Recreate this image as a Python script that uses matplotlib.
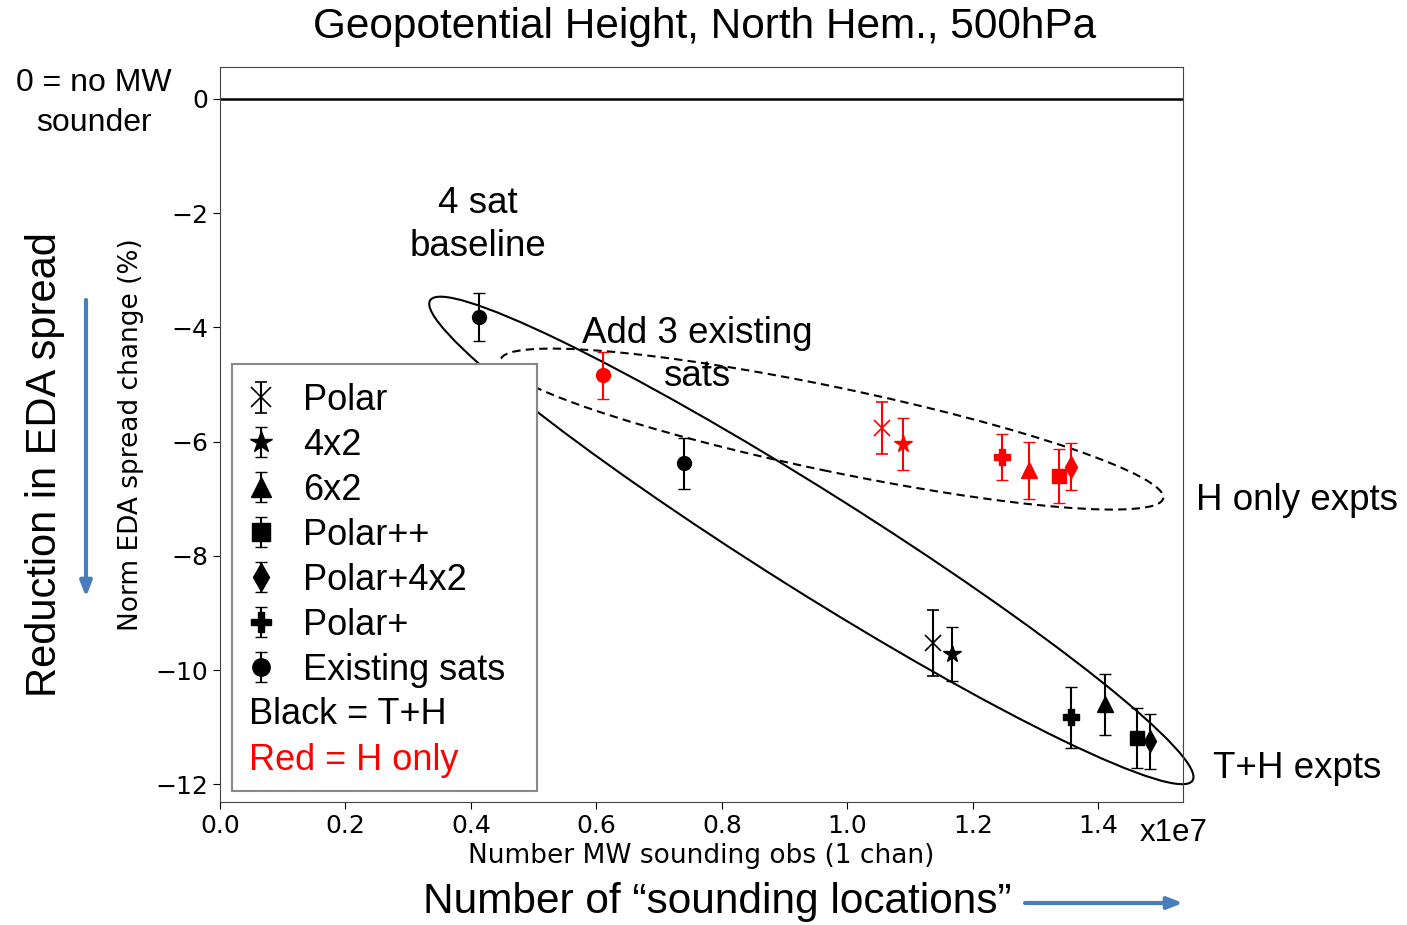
import numpy as np
import matplotlib
matplotlib.use('Agg')
import matplotlib.pyplot as plt
import matplotlib.transforms as mtransforms
from matplotlib.patches import Ellipse, Rectangle
from matplotlib.legend_handler import HandlerErrorbar
from matplotlib.container import ErrorbarContainer

# experiment names / markers
names = ['Polar', '4x2', '6x2', 'Polar++', 'Polar+4x2', 'Polar+', 'Existing sats']
markers = ['x', '*', '^', 's', 'd', 'P', 'o']
msizes = [12, 13, 12, 10, 11, 11, 10]

# T+H experiments (black): obs count, norm spread change (%), error
th_obs = [1.136e7, 1.167e7, 1.410e7, 1.461e7, 1.482e7, 1.356e7]
th_val = [-9.53, -9.72, -10.60, -11.19, -11.25, -10.83]
th_err = [0.58, 0.48, 0.54, 0.53, 0.48, 0.53]
th_exist_obs = [0.413e7, 0.740e7]
th_exist_val = [-3.82, -6.38]
th_exist_err = [0.42, 0.45]

# H only experiments (red)
h_obs = [1.056e7, 1.089e7, 1.290e7, 1.338e7, 1.356e7, 1.247e7]
h_val = [-5.76, -6.04, -6.50, -6.60, -6.44, -6.27]
h_err = [0.45, 0.46, 0.50, 0.47, 0.41, 0.40]
h_exist_obs = [0.611e7]
h_exist_val = [-4.84]
h_exist_err = [0.41]

W, H = 1407, 925
fx = lambda px: px / W
fy = lambda py: 1 - py / H

fig = plt.figure(figsize=(W / 100, H / 100), dpi=100)
ax = fig.add_axes([fx(220), fy(802), fx(1183) - fx(220), fy(67) - fy(802)])

sans = ['Liberation Sans', 'DejaVu Sans']

def eb(x, y, e, m, ms, c, label=None):
    ax.errorbar(np.array(x) / 1e7, y, yerr=e, fmt=m, ms=ms, color=c, ecolor=c,
                elinewidth=1.5, capsize=4.5, capthick=1.3, mew=1.2 if m == 'x' else 1,
                label=label, zorder=3, clip_on=False)

for i in range(6):
    eb([th_obs[i]], [th_val[i]], [th_err[i]], markers[i], msizes[i], 'black', names[i])
    eb([h_obs[i]], [h_val[i]], [h_err[i]], markers[i], msizes[i], 'red')
eb(th_exist_obs, th_exist_val, th_exist_err, 'o', 10, 'black', names[6])
eb(h_exist_obs, h_exist_val, h_exist_err, 'o', 10, 'red')

ax.axhline(0, color='black', lw=1.8)
ax.set_xlim(0, 1.535)
ax.set_ylim(-12.31, 0.56)
ax.set_xticks(np.arange(0, 1.41, 0.2))
ax.set_yticks(np.arange(-12, 1, 2))
ax.tick_params(labelsize=18, length=5)
for s in ax.spines.values():
    s.set_color('#444444')
ax.set_xlabel('Number MW sounding obs (1 chan)', fontsize=19, labelpad=4)
ax.set_ylabel('Norm EDA spread change (%)', fontsize=19, labelpad=8)

# ellipses drawn in pixel units around a data-space centre
def ellipse(cx, cy, w, h, ang, ls):
    tr = fig.dpi_scale_trans + mtransforms.ScaledTranslation(cx, cy, ax.transData)
    e = Ellipse((0, 0), w / 100, h / 100, angle=ang, transform=tr, fill=False,
                ec='black', lw=1.5, ls=ls, zorder=2, clip_on=False)
    ax.add_artist(e)

ellipse(0.9426, -7.73, 901, 100, -32.2, '-')
ellipse(0.9753, -5.78, 677, 84, -11.8, (0, (4, 2.5)))

# legend box (inside the axes so it stacks with the legend)
box = Rectangle((fx(232), fy(791)), fx(537) - fx(232), fy(364) - fy(791),
                transform=fig.transFigure, fc='white', ec='#888888', lw=1.5,
                zorder=4, clip_on=False)
ax.add_artist(box)
leg = ax.legend(loc='upper left', bbox_to_anchor=(fx(247), fy(383)),
                bbox_transform=fig.transFigure, frameon=False, borderaxespad=0,
                borderpad=0, handlelength=0.8, handletextpad=0.75, labelspacing=0.275,
                markerscale=1.25, prop={'family': sans, 'size': 26},
                handler_map={ErrorbarContainer: HandlerErrorbar(xerr_size=0.42)})
leg.set_zorder(5)
ax.text(fx(249), fy(714), 'Black = T+H', fontsize=26, family=sans, va='center',
        zorder=6, transform=fig.transFigure)
ax.text(fx(249), fy(760), 'Red = H only', fontsize=26, family=sans, va='center',
        color='red', zorder=6, transform=fig.transFigure)

# annotation texts
fig.text(fx(705), fy(27), 'Geopotential Height, North Hem., 500hPa', fontsize=30.5,
         family=sans, ha='center', va='center')
fig.text(fx(94), fy(103), '0 = no MW\nsounder', fontsize=23, family=sans,
         ha='center', va='center', linespacing=1.42)
fig.text(fx(478), fy(225), '4 sat\nbaseline', fontsize=26.5, family=sans,
         ha='center', va='center', linespacing=1.29)
fig.text(fx(697), fy(355), 'Add 3 existing\nsats', fontsize=26.5, family=sans,
         ha='center', va='center', linespacing=1.29)
fig.text(fx(1196), fy(500), 'H only expts', fontsize=26.5, family=sans, va='center')
fig.text(fx(1213), fy(768), 'T+H expts', fontsize=26.5, family=sans, va='center')
fig.text(fx(1140), fy(833), 'x1e7', fontsize=22.5, family=sans, va='center')
fig.text(fx(45), fy(465), 'Reduction in EDA spread', fontsize=30, family=sans,
         rotation=90, ha='center', va='center')
fig.text(fx(717), fy(902), 'Number of \u201csounding locations\u201d', fontsize=30.5,
         family=sans, ha='center', va='center')

blue = '#4a7ebb'
ax.annotate('', xy=(86, H - 597), xytext=(86, H - 300), xycoords='figure pixels',
            textcoords='figure pixels',
            arrowprops=dict(arrowstyle='-|>,head_length=0.9,head_width=0.35',
                            color=blue, lw=3, shrinkA=0, shrinkB=0))
ax.annotate('', xy=(1183, H - 903), xytext=(1025, H - 903), xycoords='figure pixels',
            textcoords='figure pixels',
            arrowprops=dict(arrowstyle='-|>,head_length=0.9,head_width=0.35',
                            color=blue, lw=3, shrinkA=0, shrinkB=0))

fig.savefig('out.png', dpi=100)
